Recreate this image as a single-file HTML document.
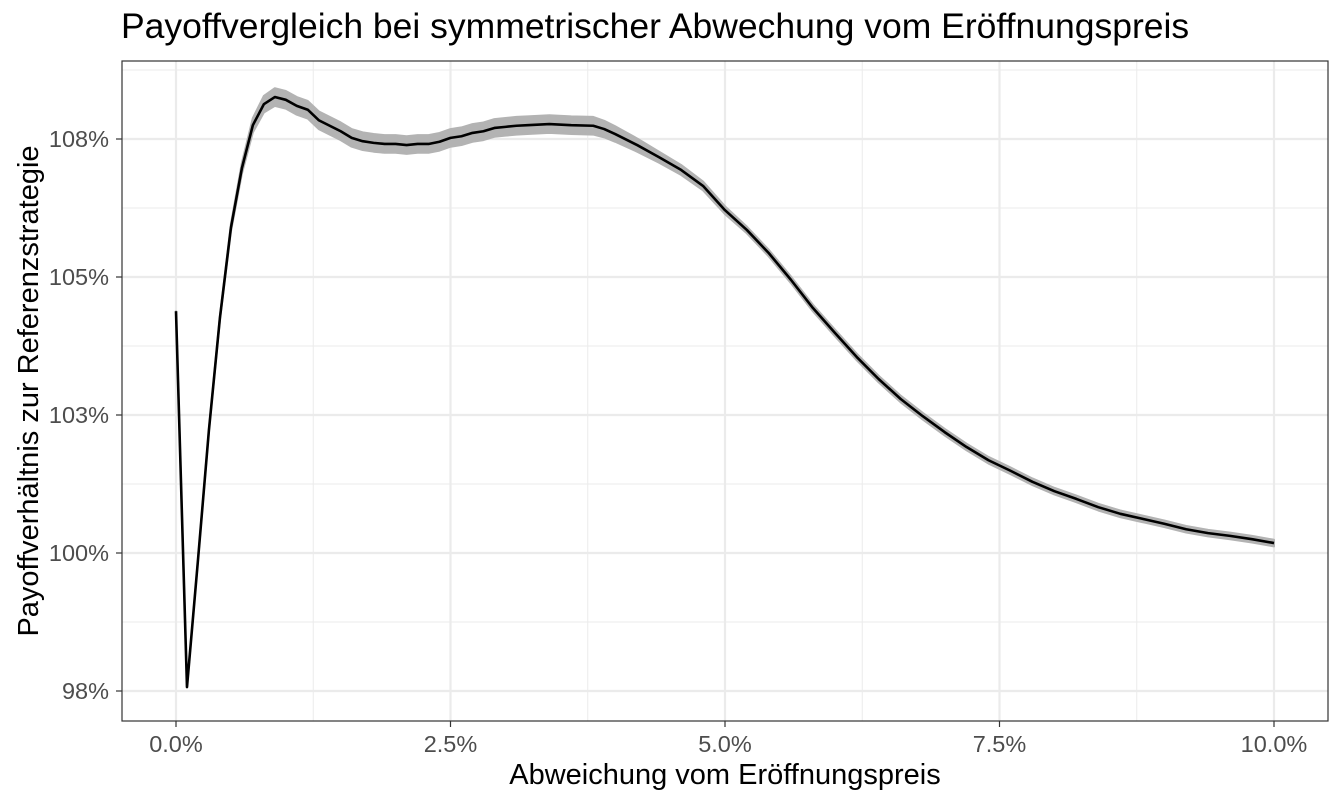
<!DOCTYPE html>
<html><head><meta charset="utf-8"><style>
html,body{margin:0;padding:0;background:#fff;}
svg{display:block;font-family:"Liberation Sans",Arial,sans-serif;}
</style></head><body>
<svg id="chart" width="1344" height="806">
<text x="121" y="38" font-size="35.5" fill="#000">Payoffvergleich bei symmetrischer Abwechung vom Eröffnungspreis</text>
<g id="grid"></g>
<g id="ribbon"></g>
<g id="series"></g>
<rect x="122" y="61" width="1206" height="660" fill="none" stroke="#333" stroke-width="1.2"/>
<g id="axes"></g>
<text x="725" y="784" font-size="29" text-anchor="middle" fill="#000">Abweichung vom Eröffnungspreis</text>
<text transform="translate(38,391) rotate(-90)" font-size="29" text-anchor="middle" fill="#000">Payoffverhältnis zur Referenzstrategie</text>
</svg>
<script>
const xValues=[0,0.1,0.2,0.3,0.4,0.5,0.6,0.7,0.8,0.9,1.0,1.1,1.2,1.3,1.4,1.5,1.6,1.7,1.8,1.9,2.0,2.1,2.2,2.3,2.4,2.5,2.6,2.7,2.8,2.9,3.0,3.1,3.2,3.4,3.6,3.8,3.9,4.0,4.2,4.4,4.6,4.8,5.0,5.2,5.4,5.6,5.8,6.0,6.2,6.4,6.6,6.8,7.0,7.2,7.4,7.6,7.8,8.0,8.2,8.4,8.6,8.8,9.0,9.2,9.4,9.6,9.8,10.0];
const payoff=[104.38,97.57,99.87,102.23,104.26,105.89,106.97,107.75,108.13,108.26,108.21,108.10,108.03,107.84,107.74,107.64,107.52,107.46,107.43,107.41,107.41,107.39,107.41,107.41,107.45,107.52,107.55,107.61,107.64,107.70,107.72,107.74,107.75,107.77,107.75,107.74,107.68,107.59,107.39,107.17,106.94,106.65,106.21,105.85,105.43,104.95,104.44,103.99,103.55,103.15,102.79,102.48,102.19,101.92,101.68,101.49,101.29,101.12,100.98,100.83,100.71,100.62,100.53,100.43,100.36,100.31,100.25,100.18];
const bandHalf=[0,0,0.01,0.02,0.04,0.07,0.1,0.13,0.15,0.16,0.16,0.16,0.16,0.16,0.16,0.16,0.16,0.16,0.16,0.16,0.16,0.16,0.16,0.16,0.16,0.16,0.16,0.16,0.16,0.16,0.16,0.16,0.16,0.16,0.16,0.16,0.15,0.14,0.12,0.1,0.09,0.08,0.07,0.06,0.06,0.06,0.06,0.06,0.06,0.06,0.06,0.06,0.06,0.06,0.06,0.06,0.06,0.06,0.06,0.06,0.06,0.06,0.06,0.06,0.06,0.06,0.06,0.06];
const xTicks=[0,2.5,5,7.5,10];
const xTickLabels=["0.0%","2.5%","5.0%","7.5%","10.0%"];
const yTicks=[97.5,100,102.5,105,107.5];
const yTickLabels=["98%","100%","103%","105%","108%"];

const NS="http://www.w3.org/2000/svg";
function X(v){return 176+(v-0)*(1274-176)/10;}
function Y(v){return 553-(v-100)*(138/2.5);}
function mk(tag,attrs,parent){const e=document.createElementNS(NS,tag);for(const k in attrs)e.setAttribute(k,attrs[k]);parent.appendChild(e);return e;}
const grid=document.getElementById('grid'),axes=document.getElementById('axes');
for(let i=0;i<xTicks.length-1;i++){const v=(xTicks[i]+xTicks[i+1])/2;
 const l=mk('line',{x1:X(v),x2:X(v),y1:61,y2:721,stroke:'#EBEBEB','stroke-width':1},grid);
 
 }
for(let i=0;i<yTicks.length-1;i++){const v=(yTicks[i]+yTicks[i+1])/2;
 const l=mk('line',{x1:122,x2:1328,y1:Y(v),y2:Y(v),stroke:'#EBEBEB','stroke-width':1},grid);
 
 }
{const v=yTicks[yTicks.length-1]+1.25;const l=mk('line',{x1:122,x2:1328,y1:Y(v),y2:Y(v),stroke:'#EBEBEB','stroke-width':1},grid);
 
 }
xTicks.forEach((v,i)=>{
 const l=mk('line',{x1:X(v),x2:X(v),y1:61,y2:721,stroke:'#EBEBEB','stroke-width':2.2},grid);
 
 
 const t=mk('line',{x1:X(v),x2:X(v),y1:721,y2:727,stroke:'#333','stroke-width':1.2},axes);
 
 
 const tx=mk('text',{x:X(v),y:752,'font-size':23.5,'text-anchor':'middle',fill:'#4D4D4D'},axes);
 tx.textContent=xTickLabels[i];
 
 
});
yTicks.forEach((v,i)=>{
 const l=mk('line',{x1:122,x2:1328,y1:Y(v),y2:Y(v),stroke:'#EBEBEB','stroke-width':2.2},grid);
 
 
 const t=mk('line',{x1:116,x2:122,y1:Y(v),y2:Y(v),stroke:'#333','stroke-width':1.2},axes);
 
 
 const tx=mk('text',{x:109,y:Y(v)+8,'font-size':23.5,'text-anchor':'end',fill:'#4D4D4D'},axes);
 tx.textContent=yTickLabels[i];
 
 
});
let up=xValues.map((x,i)=>X(x)+','+Y(payoff[i]+bandHalf[i]));
let dn=xValues.map((x,i)=>X(x)+','+Y(payoff[i]-bandHalf[i])).reverse();
const rb=mk('polygon',{points:up.concat(dn).join(' '),fill:'#B3B3B3',stroke:'#B3B3B3','stroke-width':2,'stroke-linejoin':'round'},document.getElementById('ribbon'));


const ln=mk('polyline',{points:xValues.map((x,i)=>X(x)+','+Y(payoff[i])).join(' '),fill:'none',stroke:'#000','stroke-width':2.6,'stroke-linejoin':'round'},document.getElementById('series'));


</script>
</body></html>
